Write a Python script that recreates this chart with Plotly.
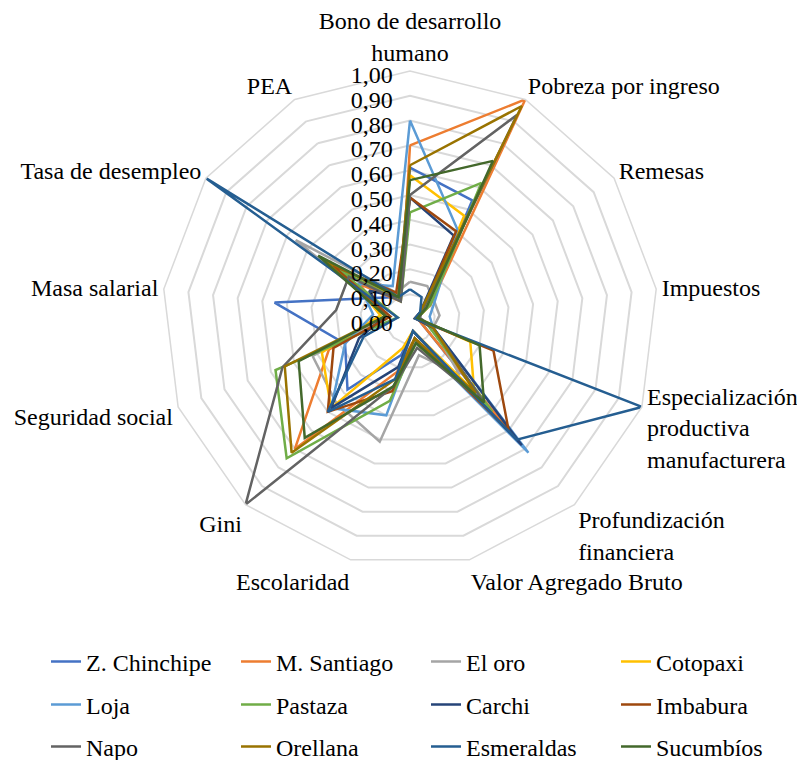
import plotly.graph_objects as go

categories = ["Bono de desarrollo<br>humano", "Pobreza por ingreso", "Remesas", "Impuestos",
              "Especialización<br>productiva<br>manufacturera", "Profundización<br>financiera",
              "Valor Agregado Bruto", "Escolaridad", "Gini", "Seguridad social",
              "Masa salarial", "Tasa de desempleo", "PEA"]

series_names = ["Z. Chinchipe", "M. Santiago", "El oro", "Cotopaxi",
                "Loja", "Pastaza", "Carchi", "Imbabura",
                "Napo", "Orellana", "Esmeraldas", "Sucumbíos"]

z_chinchipe = [0.61, 0.54, 0.08, 0.03, 0.05, 0.55, 0.05, 0.15, 0.38, 0.28, 0.55, 0.15, 0.10]
m_santiago  = [0.70, 1.00, 0.10, 0.03, 0.05, 0.62, 0.08, 0.22, 0.70, 0.35, 0.10, 0.25, 0.08]
el_oro      = [0.15, 0.15, 0.12, 0.12, 0.10, 0.30, 0.15, 0.51, 0.45, 0.42, 0.08, 0.56, 0.12]
cotopaxi    = [0.58, 0.47, 0.08, 0.03, 0.26, 0.39, 0.05, 0.12, 0.48, 0.38, 0.12, 0.30, 0.10]
loja        = [0.80, 0.41, 0.12, 0.08, 0.10, 0.72, 0.08, 0.40, 0.48, 0.28, 0.15, 0.25, 0.15]
pastaza     = [0.43, 0.62, 0.10, 0.03, 0.08, 0.50, 0.10, 0.34, 0.75, 0.58, 0.05, 0.35, 0.08]
carchi      = [0.49, 0.38, 0.05, 0.02, 0.10, 0.68, 0.05, 0.20, 0.48, 0.22, 0.10, 0.20, 0.10]
imbabura    = [0.49, 0.40, 0.06, 0.02, 0.36, 0.60, 0.08, 0.30, 0.50, 0.33, 0.08, 0.38, 0.12]
napo        = [0.50, 0.93, 0.06, 0.04, 0.10, 0.45, 0.12, 0.28, 1.00, 0.55, 0.30, 0.30, 0.08]
orellana    = [0.62, 0.97, 0.05, 0.03, 0.10, 0.40, 0.08, 0.25, 0.72, 0.54, 0.10, 0.42, 0.10]
esmeraldas  = [0.12, 0.10, 0.05, 0.02, 1.00, 0.65, 0.05, 0.25, 0.50, 0.20, 0.05, 1.00, 0.10]
sucumbios   = [0.56, 0.72, 0.08, 0.03, 0.30, 0.45, 0.10, 0.28, 0.64, 0.48, 0.10, 0.45, 0.10]

all_values = [z_chinchipe, m_santiago, el_oro, cotopaxi, loja, pastaza,
              carchi, imbabura, napo, orellana, esmeraldas, sucumbios]

colors = ["#4472C4", "#ED7D31", "#A5A5A5", "#FFC000", "#5B9BD5", "#70AD47",
          "#264478", "#9E480E", "#636363", "#997300", "#255E91", "#43682B"]

FONT = "Liberation Serif, 'Times New Roman', 'DejaVu Serif', serif"

W, H = 797, 752          # page has an 8px body margin
CX, CY, R = 402, 311, 248  # polar centre / radius in figure pixels

fig = go.Figure()
for i, (name, vals, col) in enumerate(zip(series_names, all_values, colors)):
    legend_id = ["legend", "legend2", "legend3"][i // 4]
    fig.add_trace(go.Scatterpolar(
        r=vals + [vals[0]],
        theta=categories + [categories[0]],
        mode="lines",
        name=name,
        line=dict(color=col, width=2.5),
        legend=legend_id,
    ))

legend_common = dict(orientation="h", xanchor="left", yanchor="middle",
                     font=dict(family=FONT, size=24, color="black"),
                     entrywidth=145, entrywidthmode="pixels",
                     bgcolor="rgba(0,0,0,0)", traceorder="normal")

fig.update_layout(
    width=W, height=H,
    margin=dict(l=0, r=0, t=0, b=0, autoexpand=False),
    paper_bgcolor="white",
    separators=",.",
    font=dict(family=FONT, size=24, color="black"),
    polar=dict(
        domain=dict(x=[(CX - R) / W, (CX + R) / W],
                    y=[(H - CY - R) / H, (H - CY + R) / H]),
        bgcolor="white",
        gridshape="linear",
        angularaxis=dict(rotation=90, direction="clockwise",
                         showgrid=False, showline=True, linecolor="#D9D9D9", linewidth=1.5,
                         ticks="", tickfont=dict(family=FONT, size=24, color="black")),
        radialaxis=dict(range=[0, 1], dtick=0.1, tickformat=".2f", angle=90,
                        showline=False, ticks="", gridcolor="#D9D9D9", gridwidth=1.5,
                        side="counterclockwise",
                        tickfont=dict(family=FONT, size=24, color="black")),
    ),
    legend=dict(x=38 / W, y=(H - 654) / H, **legend_common),
    legend2=dict(x=38 / W, y=(H - 697) / H, **legend_common),
    legend3=dict(x=38 / W, y=(H - 739) / H, **legend_common),
)

fig.write_html("out.html")
